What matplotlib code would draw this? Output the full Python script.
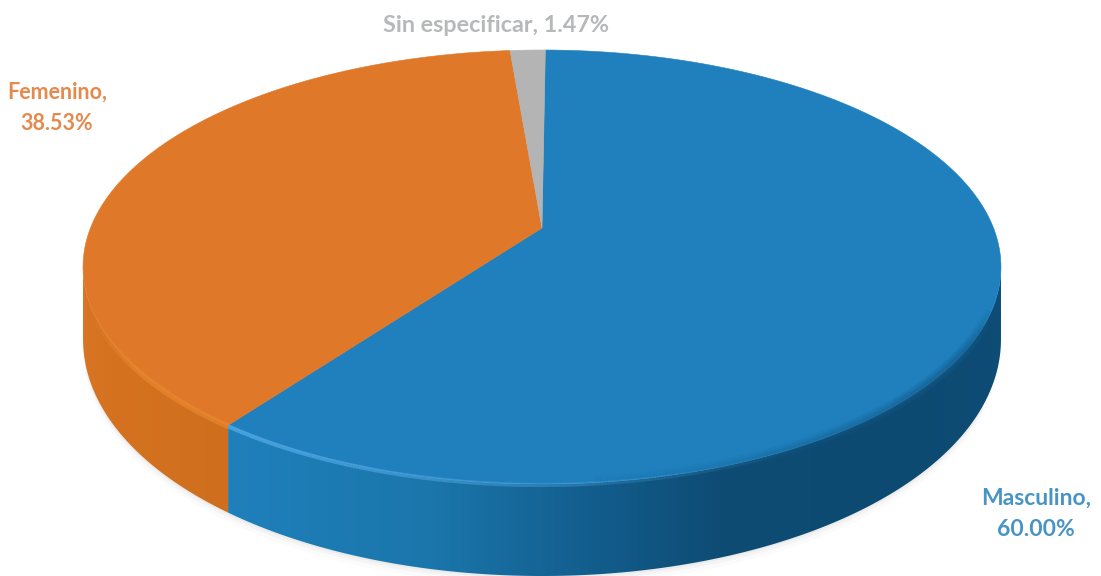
# Recreated 3D pie: distribution by sex
import numpy as np
import matplotlib
matplotlib.use('Agg')
import matplotlib.pyplot as plt
from matplotlib.patches import Polygon
from matplotlib.collections import LineCollection
from matplotlib.colors import LinearSegmentedColormap, to_rgb

# Chart data, clockwise from the top
categories = ['Masculino', 'Femenino', 'Sin especificar']
values = [60.00, 38.53, 1.47]
value_labels = ['60.00%', '38.53%', '1.47%']
colors = ['#1f80bd', '#e0782a', '#b4b4b4']

# Geometry of the tilted disc, in image pixels
CX, RX = 542, 451.5
APEX_Y, TOP_Y, BOTTOM_Y = 228, 50, 484
START_DEG = 0.5

# Perspective terms solved from the three y positions above
k = (2 * APEX_Y - TOP_Y - BOTTOM_Y) / (TOP_Y - BOTTOM_Y)
b = TOP_Y * (1 + k) - APEX_Y


def project(deg, r=1.0):
    # Clockwise degrees from the top of the disc to image pixels
    t = np.radians(deg)
    x, y = r * np.sin(t), r * np.cos(t)
    w = 1 + k * y
    return CX + RX * x / w, (APEX_Y + b * y) / w


def rim_depth(deg):
    return 68 - 24 * np.cos(np.radians(deg))


def slice_points(a, b_deg):
    t = np.linspace(a, b_deg, 200)
    x, y = project(t)
    return np.column_stack([np.r_[CX, x], np.r_[APEX_Y, y]])


def rim_points(a, b_deg):
    t = np.linspace(a, b_deg, 200)
    x, y = project(t)
    d = rim_depth(t)
    return np.column_stack([np.r_[x, x[::-1]], np.r_[y, (y + d)[::-1]]])


def gradient_rim(ax, pts, stops):
    # Horizontal colour ramp clipped to the rim outline
    cmap = LinearSegmentedColormap.from_list(
        'rim', [((x - 60) / 980, c) for x, c in stops])
    grad = np.linspace(0, 1, 512).reshape(1, -1)
    im = ax.imshow(grad, extent=(60, 1040, 580, 200), cmap=cmap, vmin=0, vmax=1,
                   aspect='auto', zorder=2)
    patch = Polygon(pts, closed=True, transform=ax.transData, fc='none', ec='none')
    ax.add_patch(patch)
    im.set_clip_path(patch)


def edge_lines(ax, t, y_off, color, alpha, lw):
    # Line along the top rim edge with alpha varying per segment
    x, y = project(t)
    pts = np.column_stack([x, y + y_off]).reshape(-1, 1, 2)
    segs = np.concatenate([pts[:-1], pts[1:]], axis=1)
    rgba = np.zeros((len(segs), 4))
    rgba[:, :3] = to_rgb(color)
    rgba[:, 3] = alpha
    ax.add_collection(LineCollection(segs, colors=rgba, linewidths=lw, zorder=4,
                                     capstyle='butt'))


def main():
    fig = plt.figure(figsize=(11.01, 5.76), dpi=100)
    ax = fig.add_axes([0, 0, 1, 1])

    # Slice angles come from the values
    edges = START_DEG + np.r_[0, np.cumsum(values)] * 3.6
    blue_end = edges[1]

    # Faint shadow under the front edge
    t = np.linspace(115, 255, 200)
    sx, sy = project(t)
    for grow, alpha in [(9, 0.025), (5, 0.04), (2, 0.06)]:
        shadow = np.column_stack([sx, sy + rim_depth(t) + grow])
        ax.add_patch(Polygon(shadow, closed=True, fc='#606060', ec='none',
                             alpha=alpha, zorder=1))

    # Rims, split at the boundary of the two visible slices
    gradient_rim(ax, rim_points(100.5, blue_end),
                 [(60, '#1f80bb'), (228, '#1f80bb'), (430, '#1b76ab'), (600, '#125c8c'),
                  (720, '#0e4c74'), (900, '#0d4a72'), (1040, '#0e4d76')])
    gradient_rim(ax, rim_points(blue_end, 259.5),
                 [(60, '#dc782a'), (110, '#d4721f'), (228, '#cf6f1e'), (1040, '#cf6f1e')])

    # Top faces
    for a, b_deg, c in zip(edges[:-1], edges[1:], colors):
        ax.add_patch(Polygon(slice_points(a, b_deg), closed=True, fc=c, ec=c, lw=0.4, zorder=3))

    # Soft bevel along the top of the rim
    t = np.linspace(blue_end, 112, 300)
    fade = np.clip((t[:-1] - 150) / 66, 0, 1)
    edge_lines(ax, t, 1, '#56ace6', 0.8 * fade, 3)
    dark = (1 - np.clip((t[:-1] - 125) / 50, 0, 1)) * np.clip((t[:-1] - 112) / 10, 0, 1)
    for lw, alpha in [(9, 0.25), (6, 0.3), (3, 0.4)]:
        edge_lines(ax, t, -1, '#155f90', alpha * dark, lw)

    # Orange side bevel, fading out before the left extreme
    t = np.linspace(blue_end, 248, 100)
    edge_lines(ax, t, 1, '#e8892f', 0.7 * (1 - np.clip((t[:-1] - 232) / 16, 0, 1)), 4)

    # Labels
    font = dict(family='Lato', fontweight='bold', ha='center', va='center', linespacing=1.6)
    ax.text(1036, 514, f'{categories[0]},\n{value_labels[0]}', color='#4a94c4', fontsize=16.5, **font)
    ax.text(496, 25, f'{categories[2]}, {value_labels[2]}', color='#b6b8b9', fontsize=16.8, **font)
    ax.text(57, 108, f'{categories[1]},\n{value_labels[1]}', color='#e58a4e', fontsize=15.5, **font)

    ax.set_xlim(0, 1101)
    ax.set_ylim(576, 0)
    ax.axis('off')
    fig.savefig('out.png', dpi=100, facecolor='white')


if __name__ == "__main__":
    main()
